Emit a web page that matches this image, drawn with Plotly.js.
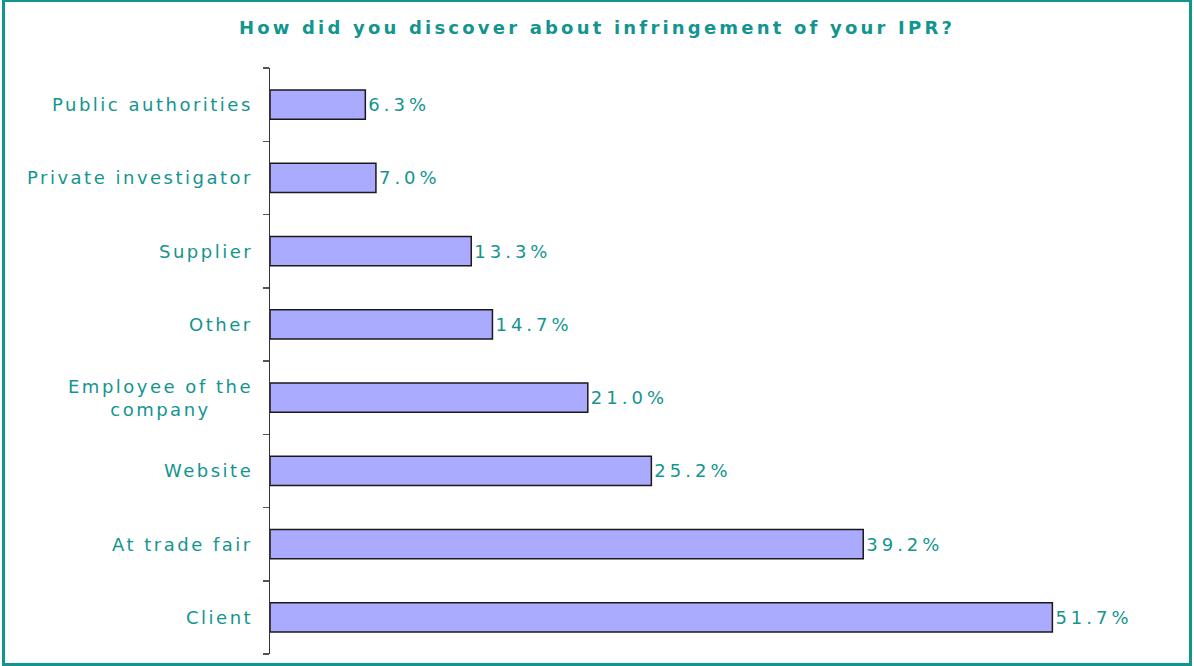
<!DOCTYPE html>
<html>
<head>
<meta charset="utf-8">
<script src="https://cdn.plot.ly/plotly-3.0.1.min.js"></script>
<style>
  html, body { margin: 0; padding: 0; background: #fff; }
  #wrap { position: relative; width: 1194px; height: 666px; overflow: hidden; }
  #chart { position: absolute; left: 0; top: 0; width: 1194px; height: 666px; }
  #frame { position: absolute; left: 2px; top: -1px; width: 1184px; height: 661px; border: 3px solid #13958F; pointer-events: none; }
  .annotation-text { letter-spacing: 2.5px; }
  .bartext { letter-spacing: 4px; translate: 4px 0; }
  .gtitle { letter-spacing: 3.2px; }
</style>
</head>
<body>
<div id="wrap">
  <div id="chart"></div>
  <div id="frame"></div>
</div>
<script>
const categories = ['Client', 'At trade fair', 'Website', 'Employee of the<br>company', 'Other', 'Supplier', 'Private investigator', 'Public authorities'];
const values = [51.7, 39.2, 25.2, 21.0, 14.7, 13.3, 7.0, 6.3];
const titleText = 'How did you discover about infringement of your IPR?';

const teal = '#13958F';
const fontFam = 'DejaVu Sans, Verdana, sans-serif';

const trace = {
  type: 'bar',
  orientation: 'h',
  y: categories,
  x: values,
  width: 0.4,
  marker: { color: '#AAAAFF', line: { color: '#1a1a1a', width: 1.5 } },
  texttemplate: '%{x:.1f}%',
  textposition: 'outside',
  cliponaxis: false,
  textfont: { family: fontFam, size: 18, color: teal },
  hoverinfo: 'skip'
};

const annotations = categories.map(c => ({
  text: c,
  xref: 'paper', x: 0, xanchor: 'right', xshift: -15,
  yref: 'y', y: c, yanchor: 'middle',
  align: 'center',
  showarrow: false,
  font: { family: fontFam, size: 18, color: teal }
}));

const layout = {
  width: 1194, height: 666,
  margin: { l: 270, r: 16, t: 68, b: 12 },
  paper_bgcolor: '#ffffff', plot_bgcolor: '#ffffff',
  showlegend: false,
  title: {
    text: '<b>' + titleText + '</b>',
    font: { family: fontFam, size: 18, color: teal },
    x: 0.5, xanchor: 'center', xref: 'container',
    y: 1 - 28 / 666, yref: 'container', yanchor: 'middle'
  },
  xaxis: { visible: false, range: [0, 60], fixedrange: true },
  yaxis: {
    type: 'category',
    categoryorder: 'array', categoryarray: categories,
    range: [-0.5, categories.length - 0.5],
    showline: true, linecolor: '#333333', linewidth: 1.5,
    ticks: 'outside', tickson: 'boundaries', ticklen: 6, tickcolor: '#555555', tickwidth: 1.5,
    showgrid: false, zeroline: false, showticklabels: false, fixedrange: true
  },
  bargap: 0.6,
  annotations: annotations
};

Plotly.newPlot('chart', [trace], layout, { staticPlot: true, displayModeBar: false });
</script>
</body>
</html>
